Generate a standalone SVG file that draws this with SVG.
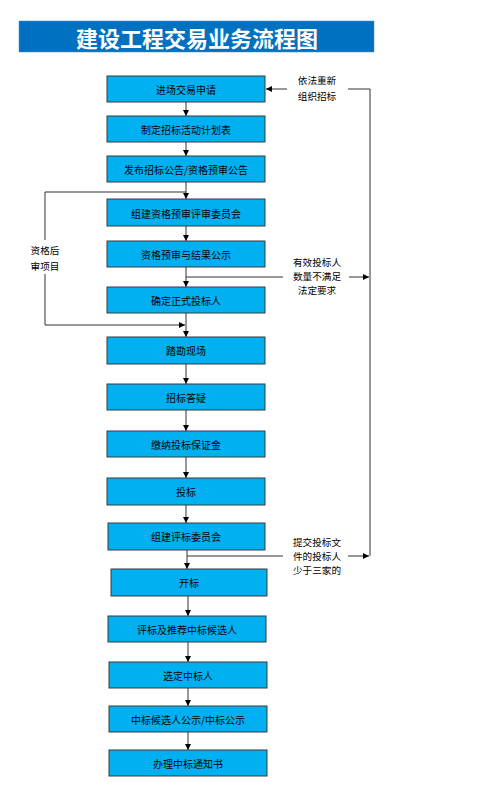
<svg xmlns="http://www.w3.org/2000/svg" width="496" height="796" viewBox="0 0 496 796">
<defs>
<marker id="ah" markerUnits="userSpaceOnUse" markerWidth="6" markerHeight="6" refX="6" refY="3" orient="auto">
<path d="M0,0 L6,3 L0,6 z" fill="#000"/>
</marker>
<style>
.box{fill:#00B0F0;stroke:#3a3a3a;stroke-width:1}
.bt{font-family:"Noto Sans CJK SC","Noto Sans",sans-serif;font-size:10px;fill:#000;text-anchor:middle;dominant-baseline:central}
.lb{font-family:"Noto Sans CJK SC","Noto Sans",sans-serif;font-size:9.6px;fill:#000;text-anchor:middle;dominant-baseline:central}
.ln{fill:none;stroke:#333;stroke-width:1}
.ar{fill:none;stroke:#333;stroke-width:1;marker-end:url(#ah)}
</style>
</defs>
<rect width="496" height="796" fill="#fff"/>
<g id="title">
<rect x="19" y="21" width="355" height="31" fill="#0070C0" stroke="#4a90d0" stroke-width="0.5"/>
<text x="197" y="37" font-family="'Noto Sans CJK SC',sans-serif" font-size="22" font-weight="bold" fill="#fff" text-anchor="middle" dominant-baseline="central">建设工程交易业务流程图</text>
</g>
<g id="connectors">
<line class="ar" x1="186" y1="102" x2="186" y2="116"/>
<line class="ar" x1="186" y1="142" x2="186" y2="156"/>
<line class="ar" x1="186" y1="182" x2="186" y2="199"/>
<line class="ar" x1="186" y1="226" x2="186" y2="241"/>
<line class="ar" x1="186" y1="267" x2="186" y2="287"/>
<line class="ar" x1="186" y1="313" x2="186" y2="337"/>
<line class="ar" x1="186" y1="364" x2="186" y2="384"/>
<line class="ar" x1="186" y1="410" x2="186" y2="431"/>
<line class="ar" x1="186" y1="457" x2="186" y2="478"/>
<line class="ar" x1="186" y1="505" x2="186" y2="523"/>
<line class="ar" x1="187" y1="550" x2="187" y2="569"/>
<line class="ar" x1="188" y1="596" x2="188" y2="616"/>
<line class="ar" x1="188" y1="642" x2="188" y2="662"/>
<line class="ar" x1="188" y1="688" x2="188" y2="706"/>
<line class="ar" x1="188" y1="732" x2="188" y2="750"/>
<polyline class="ar" points="186,192 45,192 45,325 185,325"/>
<line class="ln" x1="186" y1="277" x2="283" y2="277"/>
<line class="ar" x1="349" y1="277" x2="369" y2="277"/>
<line class="ln" x1="187" y1="556" x2="283" y2="556"/>
<line class="ar" x1="348" y1="556" x2="369" y2="556"/>
<polyline class="ln" points="348,89 370,89 370,556"/>
<line class="ar" x1="287" y1="89" x2="266" y2="89"/>
</g>
<g id="label-left">
<rect x="26" y="240" width="38" height="34" fill="#fff"/>
<text class="lb" x="45" y="250" font-size="11">资格后</text>
<text class="lb" x="45" y="266" font-size="11">审项目</text>
</g>
<g id="label-top">
<text class="lb" x="317" y="80">依法重新</text>
<text class="lb" x="317" y="96">组织招标</text>
</g>
<g id="label-mid">
<text class="lb" x="317" y="262">有效投标人</text>
<text class="lb" x="317" y="276">数量不满足</text>
<text class="lb" x="317" y="290">法定要求</text>
</g>
<g id="label-bot">
<text class="lb" x="317" y="542">提交投标文</text>
<text class="lb" x="317" y="556">件的投标人</text>
<text class="lb" x="317" y="570">少于三家的</text>
</g>
<g id="n1"><rect class="box" x="107" y="76" width="158" height="26"/><text class="bt" x="186" y="89">进场交易申请</text></g>
<g id="n2"><rect class="box" x="107" y="116" width="158" height="26"/><text class="bt" x="186" y="129">制定招标活动计划表</text></g>
<g id="n3"><rect class="box" x="107" y="156" width="158" height="26"/><text class="bt" x="186" y="169">发布招标公告/资格预审公告</text></g>
<g id="n4"><rect class="box" x="107" y="199" width="158" height="27"/><text class="bt" x="186" y="213">组建资格预审评审委员会</text></g>
<g id="n5"><rect class="box" x="107" y="241" width="158" height="26"/><text class="bt" x="186" y="254">资格预审与结果公示</text></g>
<g id="n6"><rect class="box" x="107" y="287" width="158" height="26"/><text class="bt" x="186" y="300">确定正式投标人</text></g>
<g id="n7"><rect class="box" x="107" y="337" width="158" height="27"/><text class="bt" x="186" y="350">踏勘现场</text></g>
<g id="n8"><rect class="box" x="107" y="384" width="158" height="26"/><text class="bt" x="186" y="397">招标答疑</text></g>
<g id="n9"><rect class="box" x="107" y="431" width="158" height="26"/><text class="bt" x="186" y="444">缴纳投标保证金</text></g>
<g id="n10"><rect class="box" x="107" y="478" width="158" height="27"/><text class="bt" x="186" y="491">投标</text></g>
<g id="n11"><rect class="box" x="108" y="523" width="157" height="27"/><text class="bt" x="186" y="536">组建评标委员会</text></g>
<g id="n12"><rect class="box" x="111" y="569" width="156" height="27"/><text class="bt" x="189" y="582">开标</text></g>
<g id="n13"><rect class="box" x="108" y="616" width="158" height="26"/><text class="bt" x="187" y="629">评标及推荐中标候选人</text></g>
<g id="n14"><rect class="box" x="109" y="662" width="158" height="26"/><text class="bt" x="188" y="675">选定中标人</text></g>
<g id="n15"><rect class="box" x="109" y="706" width="158" height="26"/><text class="bt" x="188" y="719">中标候选人公示/中标公示</text></g>
<g id="n16"><rect class="box" x="109" y="750" width="158" height="26"/><text class="bt" x="188" y="763">办理中标通知书</text></g>
</svg>
